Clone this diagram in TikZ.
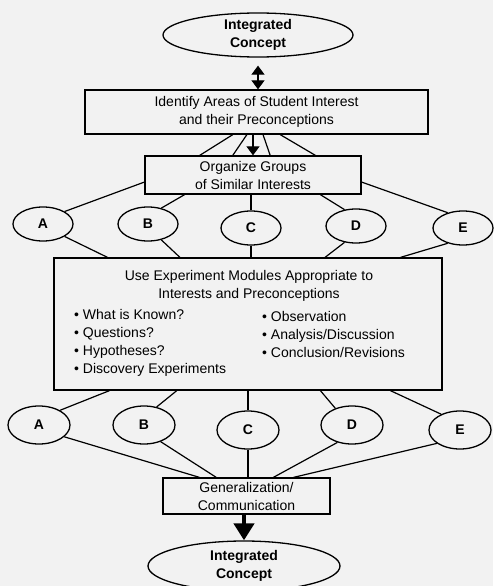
\documentclass[tikz,border=0pt]{standalone}
\usepackage{fontspec}
\setmainfont{Liberation Sans}
\usetikzlibrary{shapes,arrows.meta,positioning,calc}

\begin{document}
\begin{tikzpicture}[x=1pt, y=-1pt, font=\fontsize{14}{18}\selectfont,
    box/.style={draw, line width=1.3pt, inner sep=0pt, align=center},
    oval/.style={draw, ellipse, line width=1.3pt, inner sep=0pt, align=center, font=\fontsize{14}{18}\selectfont\bfseries},
    lnk/.style={line width=1.2pt}]
    \fill[black!5] (0,0) rectangle (493,586);
    \useasboundingbox (0,0) rectangle (493,586);

    \node[oval, minimum width=190, minimum height=44] (top) at (258,35) {Integrated\\Concept};
    \node[box, minimum width=343, minimum height=44] (identify) at (256.5,112) {Identify Areas of Student Interest\\and their Preconceptions};
    \node[box, minimum width=216, minimum height=38] (organize) at (253,175) {Organize Groups\\of Similar Interests};
    \node[box, minimum width=388, minimum height=132] (modules) at (248,324) {};
    \node[align=center, inner sep=0pt] (title) at (249,286) {Use Experiment Modules Appropriate to\\Interests and Preconceptions};
    \node[align=left, anchor=north west, inner sep=0pt] (known) at (74,309) {\textbullet\ What is Known?\\\textbullet\ Questions?\\\textbullet\ Hypotheses?\\\textbullet\ Discovery Experiments};
    \node[align=left, anchor=north west, inner sep=0pt] (observe) at (262,311) {\textbullet\ Observation\\\textbullet\ Analysis/Discussion\\\textbullet\ Conclusion/Revisions};
    \node[box, minimum width=167, minimum height=36] (general) at (246.5,496) {Generalization/\\Communication};
    \node[oval, minimum width=192, minimum height=50] (bottom) at (244,566) {Integrated\\Concept};

    % interest groups, before and after the modules
    \foreach \n/\x/\y in {A/43/224, B/148/224, C/251/228, D/356/226, E/463/228}
        \node[oval, minimum width=60, minimum height=34] (\n1) at (\x,\y) {\n};
    \foreach \n/\x/\y in {A/39/425, B/144/425, C/248/430, D/352/425, E/460/430}
        \node[oval, minimum width=62, minimum height=38] (\n2) at (\x,\y) {\n};

    \draw[lnk, {Triangle[width=13pt,length=9pt]}-{Triangle[width=13pt,length=9pt]}, shorten <=8pt] (top.south) -- (top.south |- identify.north);
    \draw[lnk, -{Triangle[width=13pt,length=9pt]}] (organize.north |- identify.south) -- (organize.north);
    \foreach \a/\b in {.431/.255, .472/.407, .519/.579, .569/.787}
        \draw[lnk] ($(identify.south west)!\a!(identify.south east)$) -- ($(organize.north west)!\b!(organize.north east)$);

    % organize -> groups -> modules
    \draw[lnk] ($(organize.north west)!.68!(organize.south west)$) -- (A1.30);
    \draw[lnk] ($(organize.south west)!.185!(organize.south east)$) -- (B1.50);
    \draw[lnk] (C1.north |- organize.south) -- (C1.north);
    \draw[lnk] ($(organize.south west)!.81!(organize.south east)$) -- (D1.125);
    \draw[lnk] ($(organize.north east)!.68!(organize.south east)$) -- (E1.135);
    \draw[lnk] (A1.-30) -- ($(modules.north west)!.139!(modules.north east)$);
    \draw[lnk] (B1.-50) -- ($(modules.north west)!.325!(modules.north east)$);
    \draw[lnk] (C1.south) -- (C1.south |- modules.north);
    \draw[lnk] (D1.-125) -- ($(modules.north west)!.698!(modules.north east)$);
    \draw[lnk] (E1.-135) -- ($(modules.north west)!.892!(modules.north east)$);

    % modules -> groups -> generalization
    \draw[lnk] ($(modules.south west)!.144!(modules.south east)$) -- (A2.35);
    \draw[lnk] ($(modules.south west)!.317!(modules.south east)$) -- (B2.55);
    \draw[lnk] (C2.north |- modules.south) -- (C2.north);
    \draw[lnk] ($(modules.south west)!.686!(modules.south east)$) -- (D2.135);
    \draw[lnk] ($(modules.south west)!.866!(modules.south east)$) -- (E2.140);
    \draw[lnk] (A2.-25) -- ($(general.north west)!.22!(general.north east)$);
    \draw[lnk] (B2.-45) -- ($(general.north west)!.32!(general.north east)$);
    \draw[lnk] (C2.south) -- (C2.south |- general.north);
    \draw[lnk] (D2.-130) -- ($(general.north west)!.66!(general.north east)$);
    \draw[lnk] (E2.-150) -- ($(general.north west)!.78!(general.north east)$);

    \draw[line width=4.5pt, -{Triangle[width=20pt,length=17pt]}] (bottom.north |- general.south) -- (bottom.north);
\end{tikzpicture}
\end{document}
